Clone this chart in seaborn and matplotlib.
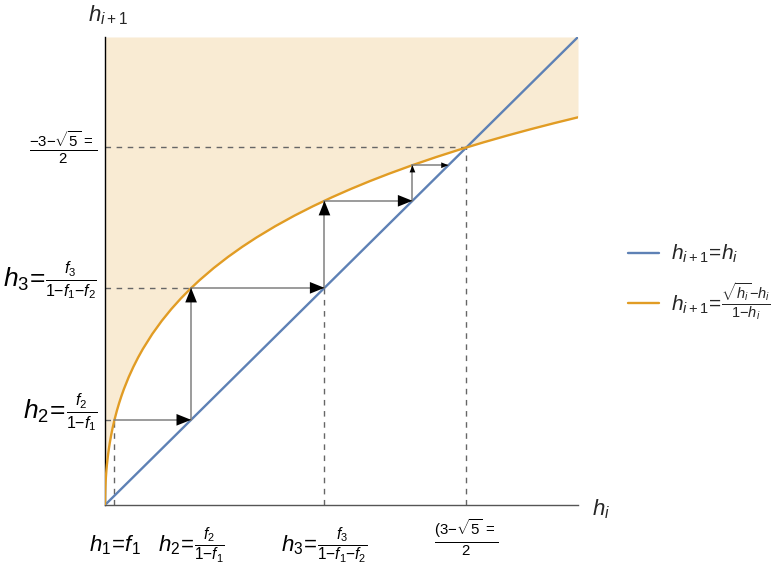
import matplotlib
matplotlib.use("Agg")
import pandas as pd
import seaborn as sns
import matplotlib.pyplot as plt
from matplotlib.offsetbox import TextArea, HPacker, AnnotationBbox

# values
curve_x = [0, 0.00005, 0.0001, 0.0002, 0.0004, 0.0007, 0.001, 0.0015, 0.002, 0.003, 0.004, 0.005,
           0.0065, 0.008, 0.01, 0.0125, 0.015, 0.0175, 0.02, 0.025, 0.03, 0.035, 0.04, 0.05, 0.06,
           0.07, 0.08, 0.09, 0.1, 0.115, 0.13, 0.145, 0.16, 0.18, 0.2, 0.22, 0.24, 0.26, 0.28, 0.3,
           0.325, 0.35, 0.375, 0.4, 0.425, 0.45, 0.475, 0.5]
curve_y = [0, 0.00702, 0.00990, 0.01394, 0.01961, 0.02578, 0.03065, 0.03729, 0.04281, 0.05193,
           0.05948, 0.06604, 0.07461, 0.08210, 0.09091, 0.10056, 0.10911, 0.11683, 0.12390, 0.13653,
           0.14763, 0.15760, 0.16667, 0.18274, 0.19675, 0.20922, 0.22048, 0.23077, 0.24025, 0.25324,
           0.26501, 0.27578, 0.28571, 0.29788, 0.30902, 0.31928, 0.32881, 0.33770, 0.34604, 0.35388,
           0.36309, 0.37170, 0.37980, 0.38743, 0.39464, 0.40149, 0.40800, 0.41421]
diag_x = [0, 0.5]
diag_y = [0, 0.5]
h = [0.01, 0.091, 0.232, 0.325, 0.363]   # h1..h5
h_star = 0.382

# tick labels: (prefix, fraction)
x_label_ticks = [h[0], h[1], h[2]]
x_prefixes = [r"$h_1\!=\!f_1$", r"$h_2\!=\!$", r"$h_3\!=\!$"]
x_fracs = ["", r"$\frac{f_2}{1{-}f_1}$", r"$\frac{f_3}{1{-}f_1{-}f_2}$"]
y_label_ticks = [h[1], h[2]]
y_prefixes = [r"$h_2\!=\!$", r"$h_3\!=\!$"]
y_fracs = [r"$\frac{f_2}{1{-}f_1}$", r"$\frac{f_3}{1{-}f_1{-}f_2}$"]
x_star_label = r"$\frac{(3{-}\sqrt{5}\,{=}}{2}$"
y_star_label = r"$\frac{-3{-}\sqrt{5}\,{=}}{2}$"
legend_labels = [r"$h_{i+1}\!=\!h_i$",
                 r"$h_{i+1}\!=\!\frac{\sqrt{h_i}{-}h_i}{1{-}h_i}$"]

blue = "#5E81B5"
orange = "#E19C24"

sns.set_theme(style="white")
plt.rcParams["font.family"] = ["Liberation Sans", "DejaVu Sans"]
plt.rcParams["mathtext.fontset"] = "custom"
plt.rcParams["mathtext.rm"] = "Liberation Sans"
plt.rcParams["mathtext.it"] = "Liberation Sans:italic"
plt.rcParams["mathtext.bf"] = "Liberation Sans:bold"

fig = plt.figure(figsize=(7.79, 5.69), dpi=100)
ax = fig.add_axes([105 / 779, 64 / 569, 473 / 779, 468 / 569])

df_curve = pd.DataFrame({"x": curve_x, "y": curve_y})
df_diag = pd.DataFrame({"x": diag_x, "y": diag_y})

ax.fill_between(curve_x, curve_y, 0.5, color=orange, alpha=0.2, lw=0, zorder=0)
sns.lineplot(data=df_diag, x="x", y="y", color=blue, lw=1.7, ax=ax, label=legend_labels[0], zorder=3)
sns.lineplot(data=df_curve, x="x", y="y", color=orange, lw=1.7, ax=ax, label=legend_labels[1],
             zorder=3, sort=False)

# dashed guides
dash = dict(color="#666666", lw=1, ls=(0, (4, 4)), zorder=2)
ax.plot([h[0], h[0]], [0, h[1]], **dash)
ax.plot([0, h[0]], [h[1], h[1]], **dash)
ax.plot([0, h[1]], [h[2], h[2]], **dash)
ax.plot([h[2], h[2]], [0, h[2]], **dash)
ax.plot([0, h_star], [h_star, h_star], **dash)
ax.plot([h_star, h_star], [0, h_star], **dash)

# cobweb arrows
segs = [((h[0], h[1]), (h[1], h[1]))]
for i in range(1, 4):
    segs.append(((h[i], h[i]), (h[i], h[i + 1])))
    segs.append(((h[i], h[i + 1]), (h[i + 1], h[i + 1])))
for start, end in segs:
    length = abs(end[0] - start[0]) + abs(end[1] - start[1])
    head = min(10.5, 0.2 * length * 680)
    ax.plot([start[0], end[0]], [start[1], end[1]], color="#808080", lw=1.1, zorder=4)
    ax.annotate("", xy=end, xytext=start,
                arrowprops=dict(arrowstyle="-|>,head_length=1,head_width=0.4", color="black",
                                lw=0, shrinkA=0, shrinkB=0, mutation_scale=head), zorder=5)

ax.set_xlim(0, 0.5)
ax.set_ylim(0, 0.5)
ax.set_xlabel("")
ax.set_ylabel("")
ax.set_xticks([h[0], h[1], h[2], h[3], h_star])
ax.set_xticklabels([])
ax.set_yticks([h[1], h[2], h[3], h_star])
ax.set_yticklabels([])
ax.tick_params(axis="both", direction="in", length=5, width=1, color="#999999")


def packed(parts):
    boxes = [TextArea(s, textprops=dict(fontsize=fs, color="black")) for s, fs in parts if s]
    return HPacker(children=boxes, align="baseline", pad=0, sep=0)


def place(box, xy, coords, off, align):
    ab = AnnotationBbox(box, xy, xycoords=coords, xybox=off, boxcoords="offset pixels",
                        box_alignment=align, frameon=False, pad=0, annotation_clip=False)
    ax.add_artist(ab)


for xv, pre, frac in zip(x_label_ticks, x_prefixes, x_fracs):
    dy = -20 if frac else -28
    place(packed([(pre, 16), (frac, 16)]), (xv, 0), ("data", "axes fraction"), (0, dy), (0.5, 1))
place(packed([(x_star_label, 15.5)]), (h_star, 0), ("data", "axes fraction"), (0, -13), (0.5, 1))
for yv, pre, frac in zip(y_label_ticks, y_prefixes, y_fracs):
    place(packed([(pre, 19), (frac, 16.5)]), (0, yv), ("axes fraction", "data"), (-8, 8), (1, 0.5))
place(packed([(y_star_label, 15.5)]), (0, h_star), ("axes fraction", "data"), (-8, 0), (1, 0.5))

for s in ["top", "right"]:
    ax.spines[s].set_visible(False)
ax.spines["left"].set_color("black")
ax.spines["bottom"].set_color("#555555")
ax.spines["left"].set_linewidth(1)
ax.spines["bottom"].set_linewidth(1)

ax.text(-0.035, 1.022, r"$h_{i+1}$", transform=ax.transAxes, fontsize=16, ha="left", va="bottom")
ax.text(1.03, -0.01, r"$h_i$", transform=ax.transAxes, fontsize=16, ha="left", va="center")

ax.legend(loc="center left", bbox_to_anchor=(1.105, 0.475), frameon=False, fontsize=15,
          handlelength=1.5, borderaxespad=0, borderpad=0, labelspacing=0.77, handletextpad=0.6)

fig.savefig("out.png", dpi=100)
